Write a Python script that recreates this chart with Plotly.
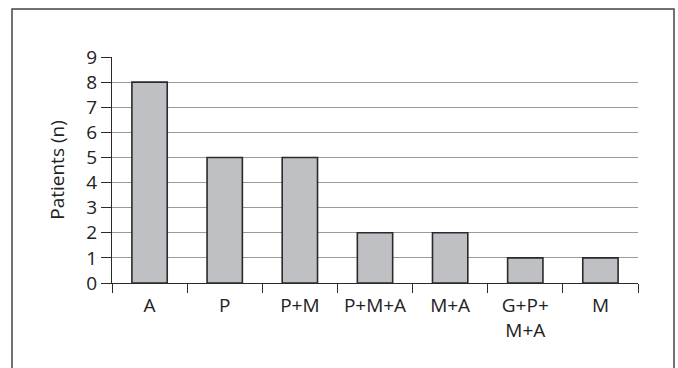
import plotly.graph_objects as go

categories = ["A", "P", "P+M", "P+M+A", "M+A", "G+P+<br>M+A", "M"]
patients = [8, 5, 5, 2, 2, 1, 1]
y_ticks = list(range(0, 10))

W, H = 678, 368
L, R, T, B = 112, 40, 57, 85
pw, ph = W - L - R, H - T - B

fig = go.Figure()
fig.add_trace(go.Bar(
    x=categories, y=patients,
    marker=dict(color="#bfc0c4", line=dict(color="#2a2a2a", width=1.6)),
    width=0.47,
))

font = dict(family="Open Sans, Noto Sans, sans-serif", size=19, color="#222222")

fig.update_layout(
    width=W, height=H,
    margin=dict(l=L, r=R, t=T, b=B, autoexpand=False),
    paper_bgcolor="white", plot_bgcolor="white",
    showlegend=False,
    font=font,
    xaxis=dict(
        type="category",
        showline=True, linecolor="#2a2a2a", linewidth=1.3,
        ticks="outside", tickson="boundaries", ticklen=9, tickcolor="#2a2a2a", tickwidth=1.3,
        showgrid=False, tickfont=font, fixedrange=True,
        ticklabelstandoff=5,
    ),
    yaxis=dict(
        range=[0, 9], tickvals=y_ticks,
        showline=True, linecolor="#2a2a2a", linewidth=1.3,
        ticks="outside", ticklen=10, tickcolor="#2a2a2a", tickwidth=1.3,
        showgrid=True, gridcolor="#9a9a9a", gridwidth=1.2,
        zeroline=False, tickfont=font,
        title=dict(text="Patients (n)", font=font, standoff=16),
        automargin=False,
    ),
    shapes=[dict(
        type="rect", xref="paper", yref="paper",
        x0=(12 - L) / pw, x1=(674 - L) / pw,
        y0=(T + ph - 372) / ph, y1=(T + ph - 9) / ph,
        line=dict(color="#444444", width=1.5), fillcolor="rgba(0,0,0,0)",
        layer="below",
    )],
)

fig.write_html(
    "out.html",
    config={"displayModeBar": False},
    post_script="document.body.style.margin='0';document.body.style.padding='0';",
)
